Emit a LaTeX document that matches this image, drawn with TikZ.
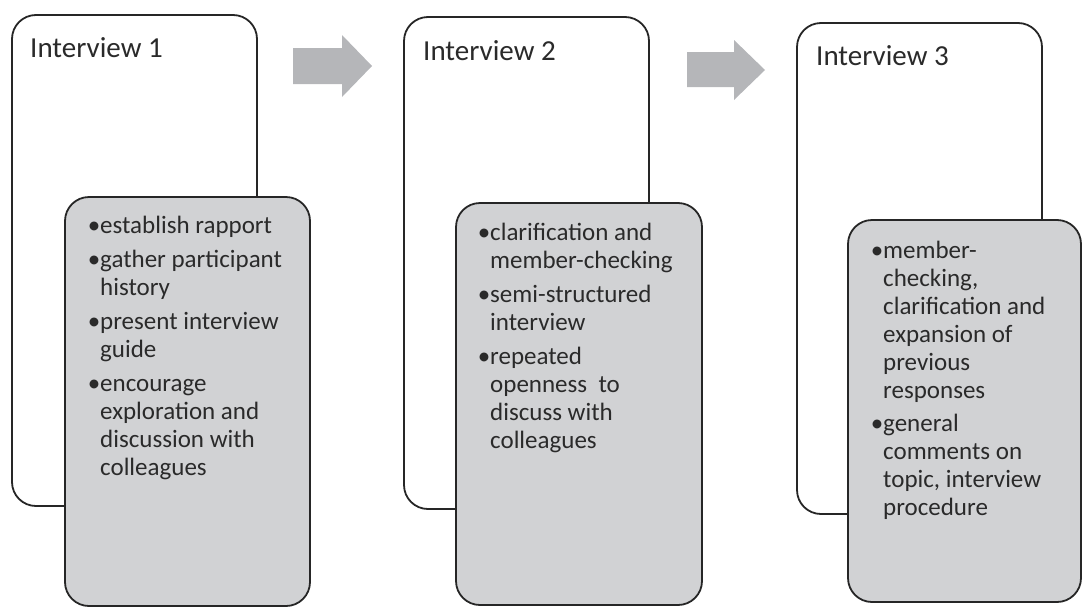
\documentclass[tikz,border=0pt]{standalone}
\usepackage{fontspec}
\setmainfont{Carlito}
\definecolor{edge}{HTML}{262626}
\definecolor{panel}{HTML}{D1D2D4}
\definecolor{flow}{HTML}{B5B6B9}
\definecolor{ink}{HTML}{2A2A2A}
\begin{document}
\begin{tikzpicture}[x=1pt,y=-1pt,
  outerbox/.style={draw=edge,line width=1.8pt,fill=white,rounded corners=24pt},
  innerbox/.style={draw=edge,line width=1.8pt,fill=panel,rounded corners=24pt},
  title/.style={anchor=base west,inner sep=0pt,text=ink,font=\fontsize{29}{34}\selectfont},
  % multi-line nodes are placed by the baseline of their last line
  items/.style={anchor=base west,inner sep=0pt,align=left,text=ink,font=\fontsize{25}{28}\selectfont},
  flowarrow/.style={fill=flow,draw=none}]
\useasboundingbox (0,0) rectangle (1083,608);

% stage frames
\draw[outerbox] (12,15) rectangle (257,506);
\draw[outerbox] (404,17) rectangle (649,509);
\draw[outerbox] (797,23) rectangle (1042,514);

% stage titles
\node[title] (t1) at (30,57) {Interview 1};
\node[title] (t2) at (423,60) {Interview 2};
\node[title] (t3) at (816,65) {Interview 3};

% shaded activity panels
\draw[innerbox] (65,197) rectangle (310,606);
\draw[innerbox] (456,203) rectangle (702,605);
\draw[innerbox] (848,220) rectangle (1081,602);

% activity lists
\node[items] (l1) at (100,475) {\llap{•}establish rapport\\[6pt]
\llap{•}gather participant\\history\\[6pt]
\llap{•}present interview\\guide\\[6pt]
\llap{•}encourage\\exploration and\\discussion with\\colleagues};
\node[items] (l2) at (490,448) {\llap{•}clarification and\\member-checking\\[6pt]
\llap{•}semi-structured\\interview\\[6pt]
\llap{•}repeated\\openness~ to\\discuss with\\colleagues};
\node[items] (l3) at (883,515) {\llap{•}member-\\checking,\\clarification and\\expansion of\\previous\\responses\\[5pt]
\llap{•}general\\comments on\\topic, interview\\procedure};

% block arrows between stages
\fill[flowarrow] (293,48) -- (342,48) -- (342,35) -- (372,66) -- (342,97) -- (342,84) -- (293,84) -- cycle;
\fill[flowarrow] (687,52) -- (734,52) -- (734,40) -- (765,70) -- (734,100) -- (734,87) -- (687,87) -- cycle;
\end{tikzpicture}
\end{document}
